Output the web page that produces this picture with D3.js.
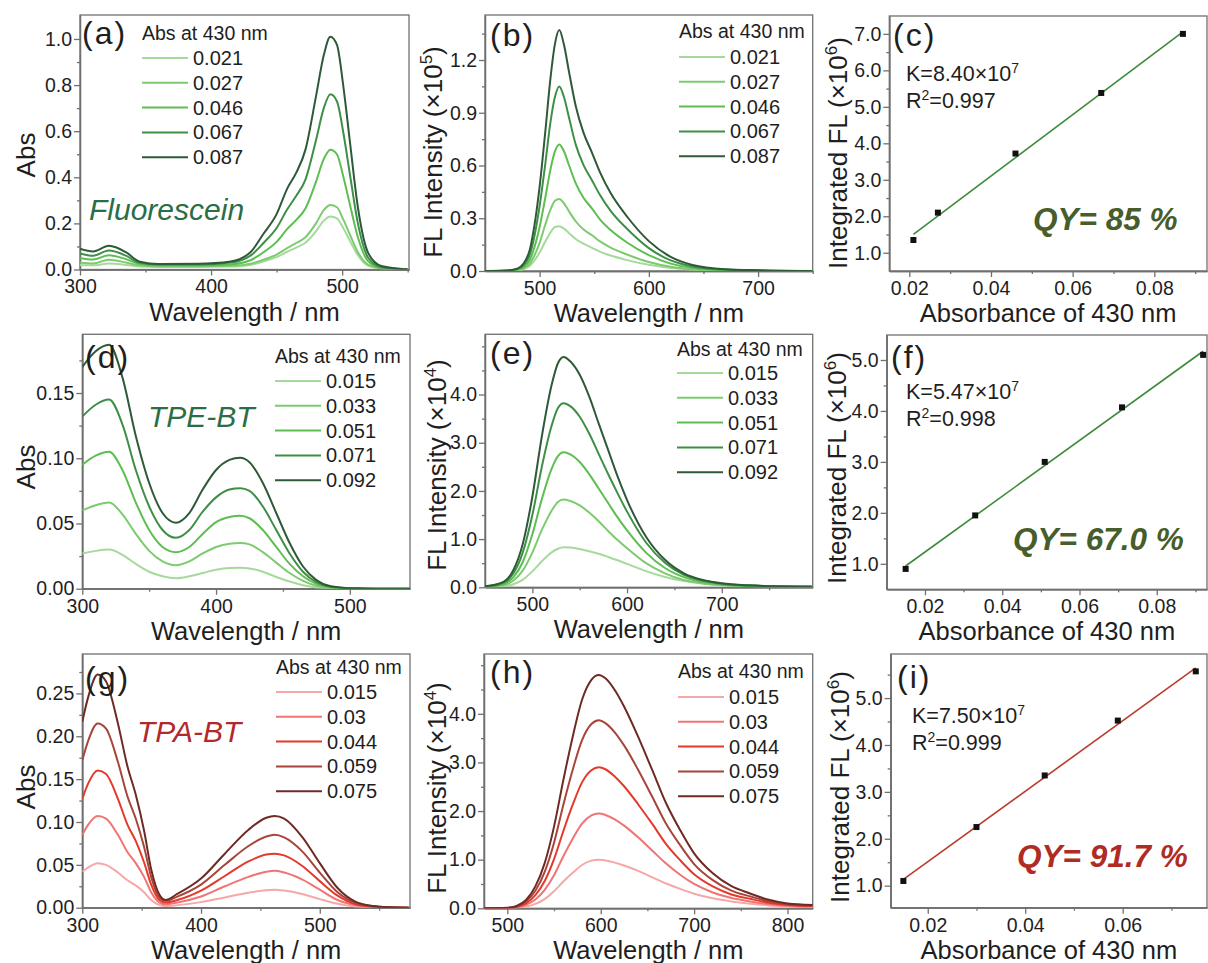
<!doctype html>
<html lang="en">
<head>
<meta charset="utf-8">
<title>Quantum yield panels</title>
<style>
body { margin: 0; background: #fff; font-family: Arial, "Liberation Sans", sans-serif; }
svg text { font-family: Arial, "Liberation Sans", sans-serif; }
</style>
</head>
<body>
<svg id="fig" width="1208" height="963"></svg>
<script src="https://d3js.org/d3.v7.min.js"></script>
<script>
// ---- data ----
var legendFluo = ["0.021", "0.027", "0.046", "0.067", "0.087"];
var legendTPE = ["0.015", "0.033", "0.051", "0.071", "0.092"];
var legendTPA = ["0.015", "0.03", "0.044", "0.059", "0.075"];

// (a) fluorescein absorbance
var absFluoWl = [300, 310, 322, 335, 345, 360, 390, 415, 430, 440, 450, 458, 465, 472, 480, 486, 491, 496, 501, 506, 512, 520, 530, 550];
var absFluo = [
  [0.020, 0.018, 0.026, 0.020, 0.013, 0.011, 0.011, 0.013, 0.020, 0.035, 0.054, 0.077, 0.095, 0.116, 0.165, 0.212, 0.230, 0.222, 0.178, 0.124, 0.062, 0.016, 0.004, 0],
  [0.030, 0.026, 0.042, 0.030, 0.018, 0.014, 0.014, 0.016, 0.025, 0.042, 0.065, 0.093, 0.115, 0.140, 0.200, 0.258, 0.280, 0.270, 0.215, 0.150, 0.075, 0.020, 0.005, 0],
  [0.050, 0.043, 0.062, 0.045, 0.025, 0.018, 0.018, 0.022, 0.040, 0.075, 0.120, 0.175, 0.215, 0.265, 0.380, 0.480, 0.520, 0.500, 0.400, 0.280, 0.140, 0.035, 0.008, 0],
  [0.070, 0.060, 0.082, 0.060, 0.030, 0.022, 0.022, 0.030, 0.060, 0.115, 0.180, 0.260, 0.320, 0.390, 0.560, 0.700, 0.760, 0.730, 0.590, 0.410, 0.200, 0.050, 0.010, 0],
  [0.090, 0.078, 0.103, 0.075, 0.035, 0.024, 0.025, 0.035, 0.075, 0.155, 0.240, 0.350, 0.420, 0.520, 0.750, 0.930, 1.010, 0.975, 0.790, 0.550, 0.270, 0.070, 0.015, 0]
];

// (b) fluorescein emission (x1e5)
var flFluoWl = [450, 470, 480, 490, 495, 500, 505, 510, 514, 518, 522, 527, 533, 540, 548, 555, 565, 580, 600, 620, 640, 670, 700, 750];
var flFluo = [
  [0, 0.001, 0.004, 0.024, 0.058, 0.105, 0.165, 0.220, 0.250, 0.255, 0.242, 0.215, 0.182, 0.155, 0.132, 0.110, 0.088, 0.062, 0.035, 0.017, 0.008, 0.002, 0.001, 0],
  [0, 0.001, 0.006, 0.035, 0.085, 0.160, 0.260, 0.350, 0.400, 0.410, 0.388, 0.338, 0.283, 0.237, 0.203, 0.170, 0.133, 0.094, 0.051, 0.024, 0.010, 0.003, 0.001, 0],
  [0, 0.002, 0.008, 0.053, 0.130, 0.250, 0.410, 0.580, 0.680, 0.720, 0.685, 0.600, 0.500, 0.418, 0.355, 0.295, 0.233, 0.162, 0.090, 0.042, 0.018, 0.005, 0.002, 0],
  [0, 0.002, 0.012, 0.077, 0.190, 0.370, 0.600, 0.850, 0.990, 1.050, 0.995, 0.870, 0.720, 0.605, 0.515, 0.435, 0.342, 0.240, 0.130, 0.060, 0.026, 0.008, 0.003, 0],
  [0, 0.003, 0.015, 0.100, 0.250, 0.480, 0.780, 1.100, 1.290, 1.370, 1.295, 1.130, 0.940, 0.790, 0.672, 0.565, 0.443, 0.310, 0.170, 0.080, 0.034, 0.010, 0.004, 0]
];

// (c) fluorescein integrated FL (x1e6)
var fitFluoX = [0.021, 0.027, 0.046, 0.067, 0.087];
var fitFluoY = [1.35, 2.10, 3.72, 5.38, 7.00];

// (d) TPE-BT absorbance
var absTPEWl = [300, 310, 320, 330, 340, 350, 360, 370, 380, 390, 400, 410, 418, 425, 435, 445, 455, 465, 475, 485, 495, 505, 520, 545];
var absTPE = [
  [0.027, 0.029, 0.030, 0.026, 0.019, 0.013, 0.0095, 0.008, 0.0095, 0.012, 0.0145, 0.0158, 0.016, 0.0155, 0.013, 0.009, 0.0055, 0.0027, 0.001, 0.0004, 0.0001, 0, 0, 0],
  [0.060, 0.064, 0.066, 0.057, 0.042, 0.029, 0.021, 0.018, 0.021, 0.027, 0.032, 0.0345, 0.035, 0.034, 0.028, 0.020, 0.012, 0.006, 0.0023, 0.0008, 0.0003, 0, 0, 0],
  [0.095, 0.102, 0.105, 0.091, 0.066, 0.045, 0.032, 0.028, 0.032, 0.042, 0.051, 0.055, 0.056, 0.054, 0.045, 0.032, 0.019, 0.0095, 0.0037, 0.0012, 0.0004, 0.0001, 0, 0],
  [0.132, 0.141, 0.145, 0.126, 0.091, 0.063, 0.045, 0.039, 0.045, 0.059, 0.070, 0.076, 0.077, 0.075, 0.063, 0.045, 0.027, 0.013, 0.005, 0.0016, 0.0006, 0.0002, 0, 0],
  [0.170, 0.182, 0.187, 0.162, 0.117, 0.081, 0.058, 0.0506, 0.058, 0.076, 0.091, 0.0987, 0.1004, 0.097, 0.081, 0.058, 0.035, 0.017, 0.0066, 0.002, 0.0008, 0.0003, 0, 0]
];

// (e) TPE-BT emission (x1e4)
var flTPEWl = [450, 470, 480, 490, 500, 510, 520, 527, 533, 540, 550, 560, 570, 580, 590, 600, 620, 640, 660, 680, 700, 730, 760, 795];
var flTPE = [
  [0.004, 0.020, 0.063, 0.160, 0.330, 0.540, 0.720, 0.800, 0.830, 0.825, 0.795, 0.750, 0.695, 0.630, 0.560, 0.485, 0.335, 0.215, 0.130, 0.080, 0.050, 0.025, 0.012, 0.008],
  [0.008, 0.045, 0.140, 0.350, 0.720, 1.190, 1.580, 1.770, 1.820, 1.790, 1.700, 1.550, 1.370, 1.170, 0.980, 0.810, 0.500, 0.290, 0.150, 0.080, 0.045, 0.020, 0.010, 0.008],
  [0.012, 0.070, 0.210, 0.530, 1.100, 1.830, 2.440, 2.720, 2.800, 2.760, 2.600, 2.350, 2.050, 1.750, 1.450, 1.180, 0.720, 0.400, 0.210, 0.110, 0.060, 0.028, 0.014, 0.010],
  [0.015, 0.100, 0.290, 0.730, 1.500, 2.500, 3.330, 3.720, 3.820, 3.760, 3.540, 3.190, 2.770, 2.350, 1.950, 1.570, 0.930, 0.510, 0.260, 0.140, 0.075, 0.035, 0.017, 0.012],
  [0.020, 0.120, 0.360, 0.910, 1.880, 3.130, 4.170, 4.650, 4.780, 4.690, 4.410, 3.960, 3.400, 2.850, 2.300, 1.810, 1.050, 0.570, 0.290, 0.150, 0.083, 0.040, 0.020, 0.015]
];

// (f) TPE-BT integrated FL (x1e6)
var fitTPEX = [0.015, 0.033, 0.051, 0.071, 0.092];
var fitTPEY = [0.90, 1.95, 3.00, 4.07, 5.10];

// (g) TPA-BT absorbance
var absTPAWl = [300, 305, 313, 320, 330, 338, 345, 352, 358, 365, 370, 380, 400, 420, 440, 455, 462, 470, 485, 500, 515, 530, 545, 560, 575];
var absTPA = [
  [0.042, 0.047, 0.052, 0.050, 0.041, 0.032, 0.026, 0.018, 0.009, 0.003, 0.002, 0.003, 0.0065, 0.012, 0.0175, 0.0205, 0.021, 0.020, 0.016, 0.010, 0.0045, 0.0013, 0.0004, 0.0001, 0],
  [0.085, 0.097, 0.107, 0.104, 0.085, 0.065, 0.052, 0.036, 0.018, 0.006, 0.004, 0.006, 0.013, 0.025, 0.036, 0.042, 0.043, 0.041, 0.033, 0.021, 0.009, 0.003, 0.0008, 0.0002, 0],
  [0.127, 0.145, 0.160, 0.156, 0.127, 0.097, 0.078, 0.053, 0.027, 0.009, 0.006, 0.009, 0.020, 0.037, 0.054, 0.062, 0.063, 0.061, 0.049, 0.031, 0.014, 0.004, 0.0012, 0.0003, 0],
  [0.172, 0.195, 0.215, 0.209, 0.170, 0.130, 0.104, 0.071, 0.036, 0.012, 0.008, 0.013, 0.027, 0.050, 0.072, 0.083, 0.085, 0.082, 0.066, 0.041, 0.018, 0.0055, 0.0016, 0.0004, 0],
  [0.217, 0.246, 0.272, 0.264, 0.215, 0.165, 0.132, 0.090, 0.045, 0.015, 0.009, 0.016, 0.034, 0.063, 0.091, 0.105, 0.107, 0.104, 0.083, 0.052, 0.023, 0.007, 0.002, 0.0005, 0]
];

// (h) TPA-BT emission (x1e4)
var flTPAWl = [475, 500, 510, 520, 530, 540, 550, 560, 570, 580, 590, 598, 605, 615, 625, 640, 655, 670, 685, 700, 720, 740, 760, 780, 800, 827];
var flTPA = [
  [0, 0.002, 0.010, 0.035, 0.090, 0.190, 0.350, 0.550, 0.730, 0.890, 0.980, 1.000, 0.985, 0.940, 0.880, 0.770, 0.640, 0.510, 0.400, 0.300, 0.205, 0.140, 0.095, 0.060, 0.038, 0.025],
  [0, 0.004, 0.020, 0.070, 0.180, 0.380, 0.680, 1.070, 1.430, 1.740, 1.910, 1.950, 1.920, 1.830, 1.700, 1.460, 1.190, 0.920, 0.690, 0.500, 0.325, 0.210, 0.140, 0.085, 0.052, 0.035],
  [0, 0.006, 0.030, 0.100, 0.270, 0.560, 1.010, 1.590, 2.130, 2.590, 2.840, 2.900, 2.860, 2.710, 2.510, 2.140, 1.740, 1.320, 0.990, 0.700, 0.450, 0.285, 0.195, 0.115, 0.068, 0.045],
  [0, 0.008, 0.040, 0.140, 0.360, 0.750, 1.350, 2.130, 2.850, 3.460, 3.790, 3.870, 3.810, 3.620, 3.350, 2.850, 2.300, 1.740, 1.300, 0.910, 0.580, 0.365, 0.245, 0.145, 0.085, 0.060],
  [0, 0.010, 0.050, 0.170, 0.450, 0.930, 1.680, 2.640, 3.530, 4.290, 4.700, 4.800, 4.730, 4.490, 4.150, 3.530, 2.850, 2.160, 1.610, 1.130, 0.720, 0.455, 0.305, 0.175, 0.100, 0.070]
];

// (i) TPA-BT integrated FL (x1e6)
var fitTPAX = [0.015, 0.030, 0.044, 0.059, 0.075];
var fitTPAY = [1.10, 2.25, 3.35, 4.52, 5.57];

// tick values
var ticksAbsFluoX = [300, 400, 500], minorAbsFluoX = [350, 450, 550];
var ticksAbsFluoY = [0, 0.2, 0.4, 0.6, 0.8, 1.0], minorAbsFluoY = [0.1, 0.3, 0.5, 0.7, 0.9];
var ticksFlFluoX = [500, 600, 700], minorFlFluoX = [550, 650, 750];
var ticksFlFluoY = [0, 0.3, 0.6, 0.9, 1.2], minorFlFluoY = [0.15, 0.45, 0.75, 1.05, 1.35];
var ticksFitFluoX = [0.02, 0.04, 0.06, 0.08], minorFitFluoX = [0.03, 0.05, 0.07, 0.09];
var ticksFitFluoY = [1, 2, 3, 4, 5, 6, 7], minorFitFluoY = [1.5, 2.5, 3.5, 4.5, 5.5, 6.5];
var ticksAbsTPEX = [300, 400, 500], minorAbsTPEX = [350, 450];
var ticksAbsTPEY = [0, 0.05, 0.10, 0.15], minorAbsTPEY = [0.025, 0.075, 0.125, 0.175];
var ticksFlTPEX = [500, 600, 700], minorFlTPEX = [550, 650, 750];
var ticksFlY = [0, 1, 2, 3, 4], minorFlY = [0.5, 1.5, 2.5, 3.5, 4.5, 5];
var ticksFitTPEX = [0.02, 0.04, 0.06, 0.08], minorFitTPEX = [0.03, 0.05, 0.07, 0.09];
var ticksFitTPEY = [1, 2, 3, 4, 5], minorFitTPEY = [1.5, 2.5, 3.5, 4.5];
var ticksAbsTPAX = [300, 400, 500], minorAbsTPAX = [350, 450, 550];
var ticksAbsTPAY = [0, 0.05, 0.10, 0.15, 0.20, 0.25], minorAbsTPAY = [0.025, 0.075, 0.125, 0.175, 0.225, 0.275];
var ticksFlTPAX = [500, 600, 700, 800], minorFlTPAX = [550, 650, 750];
var ticksFitTPAX = [0.02, 0.04, 0.06], minorFitTPAX = [0.03, 0.05, 0.07];
var ticksFitTPAY = [1, 2, 3, 4, 5], minorFitTPAY = [1.5, 2.5, 3.5, 4.5, 5.5];

var greens = ["#a6da9c", "#7dca70", "#5dbe51", "#3e8f46", "#2e5a38"];
var reds = ["#f6a7a7", "#ef7474", "#e5392b", "#a8453b", "#6e2b26"];

// ---- drawing ----
var svg = d3.select("#fig");
var frameColor = "#707070", inkColor = "#1e1e1e";
var clipId = 0;

function panel(p) {
  var w = p.box[2] - p.box[0], h = p.box[3] - p.box[1];
  var g = svg.append("g").attr("transform", "translate(" + p.box[0] + "," + p.box[1] + ")");
  var x = d3.scaleLinear().domain(p.xDomain).range([0, w]);
  var y = d3.scaleLinear().domain(p.yDomain).range([h, 0]);

  g.append("g").attr("class", "ax").attr("transform", "translate(0," + h + ")")
    .call(d3.axisBottom(x).tickValues(p.xMinor).tickSize(3).tickSizeOuter(0).tickFormat(""));
  g.append("g").attr("class", "ax").attr("transform", "translate(0," + h + ")")
    .call(d3.axisBottom(x).tickValues(p.xTicks).tickSize(6).tickSizeOuter(0).tickPadding(4).tickFormat(d3.format(p.xFmt)));
  g.append("g").attr("class", "ax")
    .call(d3.axisLeft(y).tickValues(p.yMinor).tickSize(3).tickSizeOuter(0).tickFormat(""));
  g.append("g").attr("class", "ax")
    .call(d3.axisLeft(y).tickValues(p.yTicks).tickSize(6).tickSizeOuter(0).tickPadding(2).tickFormat(d3.format(p.yFmt)));

  g.selectAll(".ax").attr("font-size", null).attr("font-family", null);
  g.selectAll(".ax path, .ax line").attr("stroke", frameColor).attr("stroke-width", 1.3);
  g.selectAll(".ax text").attr("fill", inkColor).style("font-size", "19.5px");

  g.append("rect").attr("width", w).attr("height", h)
    .attr("fill", "none").attr("stroke", frameColor).attr("stroke-width", 1.3);

  var id = "clip" + (clipId++);
  g.append("clipPath").attr("id", id).append("rect").attr("width", w).attr("height", h);
  var plot = g.append("g").attr("clip-path", "url(#" + id + ")");
  return { g: g, plot: plot, x: x, y: y, w: w, h: h, box: p.box };
}

function spectra(P, wl, series, colors) {
  var line = d3.line()
    .x(function (d, i) { return P.x(wl[i]); })
    .y(function (d) { return P.y(d); })
    .curve(d3.curveMonotoneX);
  P.plot.selectAll("path.spec").data(series).join("path")
    .attr("class", "spec")
    .attr("d", line)
    .attr("fill", "none")
    .attr("stroke", function (d, i) { return colors[i]; })
    .attr("stroke-width", 2);
}

function fit(P, xs, ys, color) {
  var mx = d3.mean(xs), my = d3.mean(ys);
  var sxy = d3.sum(xs, function (v, i) { return (v - mx) * (ys[i] - my); });
  var sxx = d3.sum(xs, function (v) { return (v - mx) * (v - mx); });
  var k = sxy / sxx, b = my - k * mx;
  var ends = d3.extent(xs);
  P.plot.append("line")
    .attr("x1", P.x(ends[0])).attr("y1", P.y(k * ends[0] + b))
    .attr("x2", P.x(ends[1])).attr("y2", P.y(k * ends[1] + b))
    .attr("stroke", color).attr("stroke-width", 1.6);
  P.plot.selectAll("rect.pt").data(xs).join("rect")
    .attr("class", "pt")
    .attr("x", function (d) { return P.x(d) - 3; })
    .attr("y", function (d, i) { return P.y(ys[i]) - 3; })
    .attr("width", 6).attr("height", 6).attr("fill", "#111");
}

function legend(x0, headY, rowY, labels, colors) {
  svg.append("text").attr("x", x0).attr("y", headY).attr("fill", inkColor)
    .style("font-size", "19.5px").text("Abs at 430 nm");
  labels.forEach(function (lab, i) {
    var cy = rowY + i * 24.8;
    svg.append("line").attr("x1", x0).attr("x2", x0 + 46).attr("y1", cy).attr("y2", cy)
      .attr("stroke", colors[i]).attr("stroke-width", 2);
    svg.append("text").attr("x", x0 + 51).attr("y", cy + 7).attr("fill", inkColor)
      .style("font-size", "20px").text(lab);
  });
}

function text(x, y, str, size, opts) {
  opts = opts || {};
  return svg.append("text").attr("x", x).attr("y", y)
    .attr("fill", opts.fill || inkColor)
    .attr("font-style", opts.italic ? "italic" : null)
    .attr("font-weight", opts.bold ? "bold" : null)
    .style("letter-spacing", opts.spacing ? opts.spacing + "px" : null)
    .style("font-size", size + "px").text(str);
}

function xTitle(P, str) {
  svg.append("text").attr("x", (P.box[0] + P.box[2]) / 2).attr("y", P.box[3] + 51)
    .attr("text-anchor", "middle").attr("fill", inkColor).style("font-size", "25.5px").text(str);
}

function yTitle(cx, cy, main, sup) {
  var t = svg.append("text")
    .attr("transform", "translate(" + cx + "," + cy + ") rotate(-90)")
    .attr("text-anchor", "middle").attr("dy", "0.36em")
    .attr("fill", inkColor).style("font-size", "26px");
  t.append("tspan").text(main);
  if (sup) {
    t.append("tspan").attr("dy", -10).style("font-size", "17px").text(sup);
    t.append("tspan").attr("dy", 10).text(")");
  }
}

function kText(x, y, kStr, kExp, r2) {
  var t = svg.append("text").attr("x", x).attr("y", y).attr("fill", inkColor).style("font-size", "21.5px");
  t.append("tspan").text("K=" + kStr + "\u00d710");
  t.append("tspan").attr("dy", -8).style("font-size", "14px").text(kExp);
  var r = svg.append("text").attr("x", x).attr("y", y + 27).attr("fill", inkColor).style("font-size", "21.5px");
  r.append("tspan").text("R");
  r.append("tspan").attr("dy", -8).style("font-size", "14px").text("2");
  r.append("tspan").attr("dy", 8).text("=" + r2);
}

// row 1: fluorescein
var pa = panel({ box: [80, 15, 409, 269.5], xDomain: [300, 551], yDomain: [0, 1.104],
  xTicks: ticksAbsFluoX, xMinor: minorAbsFluoX, yTicks: ticksAbsFluoY, yMinor: minorAbsFluoY, xFmt: "d", yFmt: ".1f" });
spectra(pa, absFluoWl, absFluo, greens);
var pb = panel({ box: [485, 15, 812.7, 271], xDomain: [450, 750], yDomain: [0, 1.456],
  xTicks: ticksFlFluoX, xMinor: minorFlFluoX, yTicks: ticksFlFluoY, yMinor: minorFlFluoY, xFmt: "d", yFmt: ".1f" });
spectra(pb, flFluoWl, flFluo, greens);
var pc = panel({ box: [889.3, 16, 1207, 271], xDomain: [0.0151, 0.0929], yDomain: [0.5, 7.49],
  xTicks: ticksFitFluoX, xMinor: minorFitFluoX, yTicks: ticksFitFluoY, yMinor: minorFitFluoY, xFmt: ".2f", yFmt: ".1f" });
fit(pc, fitFluoX, fitFluoY, "#3d8a3d");

// row 2: TPE-BT
var pd = panel({ box: [82.3, 334.3, 410, 588.7], xDomain: [300, 545], yDomain: [0, 0.195],
  xTicks: ticksAbsTPEX, xMinor: minorAbsTPEX, yTicks: ticksAbsTPEY, yMinor: minorAbsTPEY, xFmt: "d", yFmt: ".2f" });
spectra(pd, absTPEWl, absTPE, greens);
var pe = panel({ box: [485, 334.3, 812.7, 587.3], xDomain: [450, 796], yDomain: [0, 5.25],
  xTicks: ticksFlTPEX, xMinor: minorFlTPEX, yTicks: ticksFlY, yMinor: minorFlY, xFmt: "d", yFmt: ".1f" });
spectra(pe, flTPEWl, flTPE, greens);
var pf = panel({ box: [886.7, 335, 1207, 589.3], xDomain: [0.0101, 0.093], yDomain: [0.5, 5.49],
  xTicks: ticksFitTPEX, xMinor: minorFitTPEX, yTicks: ticksFitTPEY, yMinor: minorFitTPEY, xFmt: ".2f", yFmt: ".1f" });
fit(pf, fitTPEX, fitTPEY, "#3d8a3d");

// row 3: TPA-BT
var pg = panel({ box: [82.3, 654, 410, 907.7], xDomain: [300, 576], yDomain: [0, 0.296],
  xTicks: ticksAbsTPAX, xMinor: minorAbsTPAX, yTicks: ticksAbsTPAY, yMinor: minorAbsTPAY, xFmt: "d", yFmt: ".2f" });
spectra(pg, absTPAWl, absTPA, reds);
var ph = panel({ box: [484, 654, 812.7, 908.3], xDomain: [475, 827], yDomain: [0, 5.23],
  xTicks: ticksFlTPAX, xMinor: minorFlTPAX, yTicks: ticksFlY, yMinor: minorFlY, xFmt: "d", yFmt: ".1f" });
spectra(ph, flTPAWl, flTPA, reds);
var pi = panel({ box: [890.7, 654, 1207, 907.7], xDomain: [0.0124, 0.0773], yDomain: [0.53, 5.94],
  xTicks: ticksFitTPAX, xMinor: minorFitTPAX, yTicks: ticksFitTPAY, yMinor: minorFitTPAY, xFmt: ".2f", yFmt: ".1f" });
fit(pi, fitTPAX, fitTPAY, "#bb3a2e");

// axis titles
[pa, pb, pd, pe, pg, ph].forEach(function (P) { xTitle(P, "Wavelength / nm"); });
[pc, pf, pi].forEach(function (P) { xTitle(P, "Absorbance of 430 nm"); });
yTitle(26, 155, "Abs");
yTitle(26, 467, "Abs");
yTitle(26, 787, "Abs");
yTitle(433, 152, "FL Intensity (\u00d710", "5");
yTitle(437, 465, "FL Intensity (\u00d710", "4");
yTitle(437, 788, "FL Intensity (\u00d710", "4");
yTitle(838, 153, "Integrated FL (\u00d710", "6");
yTitle(837, 468, "Integrated FL (\u00d710", "6");
yTitle(840, 787, "Integrated FL (\u00d710", "6");

// legends
legend(142, 39.5, 58, legendFluo, greens);
legend(679, 38, 57, legendFluo, greens);
legend(275, 363, 381, legendTPE, greens);
legend(677, 356, 373, legendTPE, greens);
legend(276, 674, 692, legendTPA, reds);
legend(678, 678, 697, legendTPA, reds);

// panel letters
var lett = { spacing: 2 };
text(82, 44, "(a)", 32, lett);
text(490, 46, "(b)", 32, lett);
text(893, 46, "(c)", 32, lett);
text(85, 368, "(d)", 32, lett);
text(490, 364, "(e)", 32, lett);
text(891, 368, "(f)", 32, lett);
text(85, 689, "(g)", 32, lett);
text(490, 683, "(h)", 32, lett);
text(897, 688, "(i)", 32, lett);

// compound names
text(89, 220, "Fluorescein", 30, { italic: true, fill: "#2b6e45" });
text(148, 427, "TPE-BT", 30, { italic: true, fill: "#2b6e45" });
text(137, 742, "TPA-BT", 30, { italic: true, fill: "#b3282d" });

// fit annotations
kText(906, 81, "8.40", "7", "0.997");
kText(906, 399, "5.47", "7", "0.998");
kText(912, 723, "7.50", "7", "0.999");
text(1033, 230, "QY= 85 %", 31.5, { italic: true, bold: true, fill: "#475d2a" });
text(1013, 550, "QY= 67.0 %", 31.5, { italic: true, bold: true, fill: "#475d2a" });
text(1017, 867, "QY= 91.7 %", 31.5, { italic: true, bold: true, fill: "#b02b22" });
</script>
</body>
</html>
